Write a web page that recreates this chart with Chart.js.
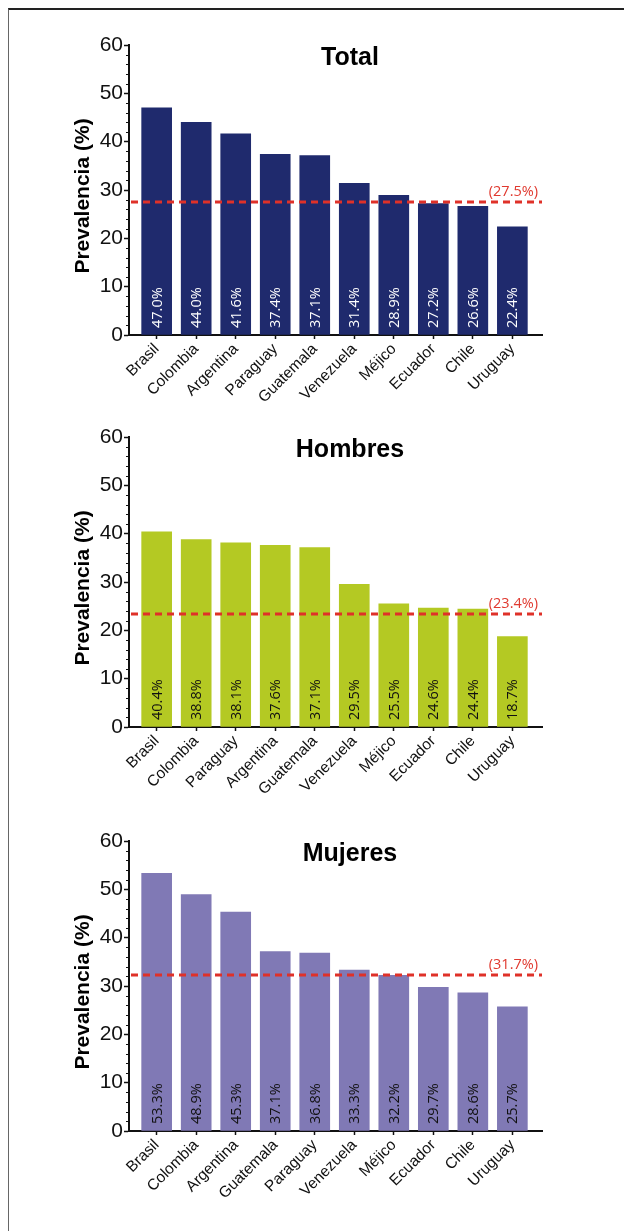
<!DOCTYPE html>
<html lang="es">
<head>
  <meta charset="UTF-8" />
  <title>Prevalencia por país</title>
  <script src="https://cdn.jsdelivr.net/npm/chart.js"></script>
  <style>
    html, body { margin: 0; padding: 0; background: #fff; overflow: hidden; }
    #page { position: relative; width: 624px; height: 1231px; }
    #frame { position: absolute; left: 8px; top: 8px; width: 640px; height: 1300px;
      border-top: 2px solid #222; border-left: 1px solid #666; }
    canvas { position: absolute; left: 0; }
  </style>
</head>
<body>
  <div id="page">
    <div id="frame"></div>
    <canvas id="chartTotal" width="624" height="400" style="top:5px"></canvas>
    <canvas id="chartHombres" width="624" height="400" style="top:397px"></canvas>
    <canvas id="chartMujeres" width="624" height="400" style="top:801px"></canvas>
  </div>

  <script>
    // datos
    const totalCountries = ['Brasil', 'Colombia', 'Argentina', 'Paraguay', 'Guatemala', 'Venezuela', 'Méjico', 'Ecuador', 'Chile', 'Uruguay'];
    const totalValues = [47.0, 44.0, 41.6, 37.4, 37.1, 31.4, 28.9, 27.2, 26.6, 22.4];
    const totalMean = 27.5;
    const totalMeanLabel = '(27.5%)';

    const menCountries = ['Brasil', 'Colombia', 'Paraguay', 'Argentina', 'Guatemala', 'Venezuela', 'Méjico', 'Ecuador', 'Chile', 'Uruguay'];
    const menValues = [40.4, 38.8, 38.1, 37.6, 37.1, 29.5, 25.5, 24.6, 24.4, 18.7];
    const menMean = 23.4;
    const menMeanLabel = '(23.4%)';

    const womenCountries = ['Brasil', 'Colombia', 'Argentina', 'Guatemala', 'Paraguay', 'Venezuela', 'Méjico', 'Ecuador', 'Chile', 'Uruguay'];
    const womenValues = [53.3, 48.9, 45.3, 37.1, 36.8, 33.3, 32.2, 29.7, 28.6, 25.7];
    const womenMean = 32.3; // la linea esta dibujada algo por encima del valor rotulado
    const womenMeanLabel = '(31.7%)';

    const yTicks = [0, 10, 20, 30, 40, 50, 60];

    Chart.defaults.font.family = 'Arial, "Liberation Sans", sans-serif';
    Chart.defaults.color = '#111';

    // titulo, eje y, linea de media, rotulos en barras y marcas menores
    const decoPlugin = {
      id: 'deco',
      afterDatasetsDraw(chart, args, opts) {
        const ctx = chart.ctx;
        const area = chart.chartArea;
        const y = chart.scales.y;
        const meta = chart.getDatasetMeta(0);

        ctx.save();

        // marcas menores cada 2
        ctx.strokeStyle = '#111';
        ctx.lineWidth = 1;
        for (let v = 2; v < 60; v += 2) {
          if (v % 10 === 0) continue;
          const py = Math.round(y.getPixelForValue(v)) + 0.5;
          ctx.beginPath();
          ctx.moveTo(area.left - 3, py);
          ctx.lineTo(area.left, py);
          ctx.stroke();
        }

        // rotulos dentro de las barras
        ctx.fillStyle = opts.labelColor;
        ctx.font = '14.5px "Open Sans", sans-serif';
        ctx.textAlign = 'left';
        ctx.textBaseline = 'middle';
        const base = y.getPixelForValue(0) - 7;
        meta.data.forEach((bar, i) => {
          ctx.save();
          ctx.translate(bar.x + 1, base);
          ctx.rotate(-Math.PI / 2);
          ctx.fillText(opts.values[i].toFixed(1) + '%', 0, 0);
          ctx.restore();
        });

        // linea de media
        const my = y.getPixelForValue(opts.mean);
        ctx.strokeStyle = '#df3129';
        ctx.lineWidth = 3;
        ctx.setLineDash([7, 5]);
        ctx.beginPath();
        ctx.moveTo(area.left + 2, my);
        ctx.lineTo(area.right, my);
        ctx.stroke();
        ctx.setLineDash([]);
        ctx.fillStyle = '#e0392f';
        ctx.font = '14.5px "Open Sans", sans-serif';
        ctx.textAlign = 'right';
        ctx.textBaseline = 'alphabetic';
        ctx.fillText(opts.meanLabel, area.right - 4, my - 6);

        // titulo
        ctx.fillStyle = '#000';
        ctx.font = 'bold 25px Arial, "Liberation Sans", sans-serif';
        ctx.textAlign = 'center';
        ctx.fillText(opts.title, 350, area.top + 20);

        // titulo eje y
        ctx.save();
        ctx.translate(83, (area.top + area.bottom) / 2 + 6);
        ctx.rotate(-Math.PI / 2);
        ctx.font = 'bold 21px Arial, "Liberation Sans", sans-serif';
        ctx.textBaseline = 'middle';
        ctx.fillText('Prevalencia (%)', 0, 0);
        ctx.restore();

        ctx.restore();
      }
    };

    function makeChart(id, title, countries, values, mean, meanLabel, color, labelColor) {
      const ctx = document.getElementById(id).getContext('2d');
      return new Chart(ctx, {
        type: 'bar',
        data: {
          datasets: [{
            data: values.map((v, i) => ({ x: i, y: v })),
            backgroundColor: color,
            barThickness: 30,
            borderWidth: 0
          }]
        },
        options: {
          responsive: false,
          animation: false,
          layout: { padding: { top: 40, right: 82, left: 0, bottom: 0 } },
          plugins: {
            legend: { display: false },
            tooltip: { enabled: false },
            deco: { title: title, values: values, mean: mean, meanLabel: meanLabel, labelColor: labelColor }
          },
          scales: {
            x: {
              type: 'linear',
              min: -0.7,
              max: 9.75,
              offset: false,
              afterFit: s => { s.height = 70; },
              grid: { offset: false, drawOnChartArea: false, tickLength: 4, tickColor: '#111', tickWidth: 1.5 },
              border: { color: '#111', width: 2 },
              ticks: {
                stepSize: 1,
                includeBounds: false,
                autoSkip: false,
                minRotation: 45,
                maxRotation: 45,
                padding: 1,
                font: { size: 15.5 },
                color: '#111',
                callback: v => countries[v] !== undefined ? countries[v] : ''
              }
            },
            y: {
              min: yTicks[0],
              max: yTicks[yTicks.length - 1],
              afterFit: s => { s.width = 129; },
              grid: { drawOnChartArea: false, tickLength: 5, tickColor: '#111', tickWidth: 1.5 },
              border: { color: '#111', width: 2 },
              ticks: { stepSize: 10, padding: 1, font: { size: 21 }, color: '#111' }
            }
          }
        },
        plugins: [decoPlugin]
      });
    }

    makeChart('chartTotal', 'Total', totalCountries, totalValues, totalMean, totalMeanLabel, '#1f2a6d', '#ffffff');
    makeChart('chartHombres', 'Hombres', menCountries, menValues, menMean, menMeanLabel, '#b4c923', '#111111');
    makeChart('chartMujeres', 'Mujeres', womenCountries, womenValues, womenMean, womenMeanLabel, '#8079b5', '#111111');
  </script>
</body>
</html>
